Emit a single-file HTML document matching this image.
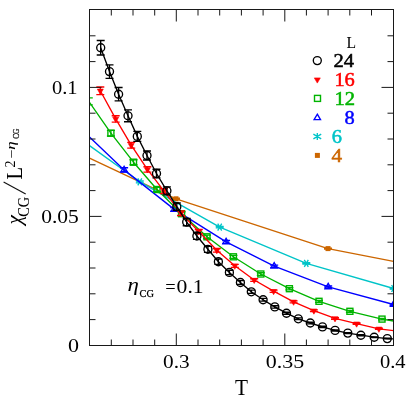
<!DOCTYPE html>
<html><head><meta charset="utf-8"><title>chart</title>
<style>html,body{margin:0;padding:0;background:#fff}svg{display:block;will-change:transform}text{font-family:"Liberation Serif",serif}</style>
</head><body>
<svg width="415" height="415" viewBox="0 0 415 415">
<rect width="415" height="415" fill="#fff"/>
<clipPath id="c"><rect x="89.5" y="9.5" width="304.0" height="336.0"/></clipPath>
<g clip-path="url(#c)">
<polyline points="89.5,158.2 176.0,198.8 328.0,248.6 393.5,261.3" fill="none" stroke="#cc6600" stroke-width="1.35" stroke-linejoin="round"/>
<path d="M176.0 198.2V199.4M172.0 198.2H180.0M172.0 199.4H180.0" stroke="#cc6600" stroke-width="1.35" fill="none"/>
<rect x="173.5" y="196.3" width="5" height="5" fill="#cc6600"/>
<path d="M328.0 248.1V249.1M324.0 248.1H332.0M324.0 249.1H332.0" stroke="#cc6600" stroke-width="1.35" fill="none"/>
<rect x="325.5" y="246.1" width="5" height="5" fill="#cc6600"/>
<polyline points="89.5,145.6 139.8,181.8 219.7,227.1 306.3,263.4 393.6,288.5" fill="none" stroke="#00c4c8" stroke-width="1.35" stroke-linejoin="round"/>
<path d="M139.8 180.8V182.8M135.8 180.8H143.8M135.8 182.8H143.8" stroke="#00c4c8" stroke-width="1.35" fill="none"/>
<path d="M136.2 181.8H143.4M137.8 178.3L141.8 185.3M137.8 185.3L141.8 178.3" fill="none" stroke="#00c4c8" stroke-width="1.35"/>
<path d="M219.7 226.3V227.9M215.7 226.3H223.7M215.7 227.9H223.7" stroke="#00c4c8" stroke-width="1.35" fill="none"/>
<path d="M216.1 227.1H223.3M217.7 223.6L221.7 230.6M217.7 230.6L221.7 223.6" fill="none" stroke="#00c4c8" stroke-width="1.35"/>
<path d="M306.3 262.7V264.1M302.3 262.7H310.3M302.3 264.1H310.3" stroke="#00c4c8" stroke-width="1.35" fill="none"/>
<path d="M302.7 263.4H309.9M304.3 259.9L308.3 266.9M304.3 266.9L308.3 259.9" fill="none" stroke="#00c4c8" stroke-width="1.35"/>
<path d="M393.6 287.9V289.1M389.6 287.9H397.6M389.6 289.1H397.6" stroke="#00c4c8" stroke-width="1.35" fill="none"/>
<path d="M390.0 288.5H397.2M391.6 285.0L395.6 292.0M391.6 292.0L395.6 285.0" fill="none" stroke="#00c4c8" stroke-width="1.35"/>
<polyline points="89.5,136.9 124.1,169.9 174.3,209.4 226.1,241.9 274.2,266.2 328.2,286.9 393.6,304.5" fill="none" stroke="#0000ff" stroke-width="1.35" stroke-linejoin="round"/>
<path d="M124.1 167.7V172.1M120.1 167.7H128.1M120.1 172.1H128.1" stroke="#0000ff" stroke-width="1.35" fill="none"/>
<path d="M124.1 166.3L127.3 171.7L120.9 171.7Z" fill="none" stroke="#0000ff" stroke-width="1.35" stroke-linejoin="miter"/>
<path d="M174.3 207.6V211.2M170.3 207.6H178.3M170.3 211.2H178.3" stroke="#0000ff" stroke-width="1.35" fill="none"/>
<path d="M174.3 205.8L177.5 211.2L171.1 211.2Z" fill="none" stroke="#0000ff" stroke-width="1.35" stroke-linejoin="miter"/>
<path d="M226.1 240.5V243.3M222.1 240.5H230.1M222.1 243.3H230.1" stroke="#0000ff" stroke-width="1.35" fill="none"/>
<path d="M226.1 238.3L229.3 243.7L222.9 243.7Z" fill="none" stroke="#0000ff" stroke-width="1.35" stroke-linejoin="miter"/>
<path d="M274.2 265.1V267.3M270.2 265.1H278.2M270.2 267.3H278.2" stroke="#0000ff" stroke-width="1.35" fill="none"/>
<path d="M274.2 262.6L277.4 268.0L271.0 268.0Z" fill="none" stroke="#0000ff" stroke-width="1.35" stroke-linejoin="miter"/>
<path d="M328.2 286.0V287.8M324.2 286.0H332.2M324.2 287.8H332.2" stroke="#0000ff" stroke-width="1.35" fill="none"/>
<path d="M328.2 283.3L331.4 288.7L325.0 288.7Z" fill="none" stroke="#0000ff" stroke-width="1.35" stroke-linejoin="miter"/>
<path d="M393.6 303.7V305.3M389.6 303.7H397.6M389.6 305.3H397.6" stroke="#0000ff" stroke-width="1.35" fill="none"/>
<path d="M393.6 300.9L396.8 306.3L390.4 306.3Z" fill="none" stroke="#0000ff" stroke-width="1.35" stroke-linejoin="miter"/>
<polyline points="88.8,101.3 110.9,133.2 133.5,162.2 157.0,189.5 181.6,213.7 207.0,236.8 233.4,256.8 260.8,274.0 289.4,288.7 319.0,301.3 349.9,311.3 382.0,319.1 393.5,321.0" fill="none" stroke="#00b400" stroke-width="1.35" stroke-linejoin="round"/>
<path d="M88.8 97.8V104.8M84.8 97.8H92.8M84.8 104.8H92.8" stroke="#00b400" stroke-width="1.35" fill="none"/>
<path d="M110.9 130.4V136.0M106.9 130.4H114.9M106.9 136.0H114.9" stroke="#00b400" stroke-width="1.35" fill="none"/>
<rect x="107.9" y="130.2" width="6" height="6" fill="none" stroke="#00b400" stroke-width="1.4000000000000001"/>
<path d="M133.5 159.7V164.7M129.5 159.7H137.5M129.5 164.7H137.5" stroke="#00b400" stroke-width="1.35" fill="none"/>
<rect x="130.5" y="159.2" width="6" height="6" fill="none" stroke="#00b400" stroke-width="1.4000000000000001"/>
<path d="M157.0 187.3V191.7M153.0 187.3H161.0M153.0 191.7H161.0" stroke="#00b400" stroke-width="1.35" fill="none"/>
<rect x="154.0" y="186.5" width="6" height="6" fill="none" stroke="#00b400" stroke-width="1.4000000000000001"/>
<path d="M181.6 211.7V215.7M177.6 211.7H185.6M177.6 215.7H185.6" stroke="#00b400" stroke-width="1.35" fill="none"/>
<rect x="178.6" y="210.7" width="6" height="6" fill="none" stroke="#00b400" stroke-width="1.4000000000000001"/>
<path d="M207.0 235.1V238.5M203.0 235.1H211.0M203.0 238.5H211.0" stroke="#00b400" stroke-width="1.35" fill="none"/>
<rect x="204.0" y="233.8" width="6" height="6" fill="none" stroke="#00b400" stroke-width="1.4000000000000001"/>
<path d="M233.4 255.3V258.3M229.4 255.3H237.4M229.4 258.3H237.4" stroke="#00b400" stroke-width="1.35" fill="none"/>
<rect x="230.4" y="253.8" width="6" height="6" fill="none" stroke="#00b400" stroke-width="1.4000000000000001"/>
<path d="M260.8 272.7V275.3M256.8 272.7H264.8M256.8 275.3H264.8" stroke="#00b400" stroke-width="1.35" fill="none"/>
<rect x="257.8" y="271.0" width="6" height="6" fill="none" stroke="#00b400" stroke-width="1.4000000000000001"/>
<path d="M289.4 287.6V289.8M285.4 287.6H293.4M285.4 289.8H293.4" stroke="#00b400" stroke-width="1.35" fill="none"/>
<rect x="286.4" y="285.7" width="6" height="6" fill="none" stroke="#00b400" stroke-width="1.4000000000000001"/>
<path d="M319.0 300.3V302.3M315.0 300.3H323.0M315.0 302.3H323.0" stroke="#00b400" stroke-width="1.35" fill="none"/>
<rect x="316.0" y="298.3" width="6" height="6" fill="none" stroke="#00b400" stroke-width="1.4000000000000001"/>
<path d="M349.9 310.4V312.2M345.9 310.4H353.9M345.9 312.2H353.9" stroke="#00b400" stroke-width="1.35" fill="none"/>
<rect x="346.9" y="308.3" width="6" height="6" fill="none" stroke="#00b400" stroke-width="1.4000000000000001"/>
<path d="M382.0 318.3V319.9M378.0 318.3H386.0M378.0 319.9H386.0" stroke="#00b400" stroke-width="1.35" fill="none"/>
<rect x="379.0" y="316.1" width="6" height="6" fill="none" stroke="#00b400" stroke-width="1.4000000000000001"/>
<polyline points="100.3,90.8 115.7,118.9 131.2,145.2 147.4,169.4 164.0,191.1 181.0,213.2 198.8,231.5 216.8,250.3 234.8,265.8 254.2,280.0 273.6,291.2 293.6,301.8 313.9,310.7 335.0,318.4 356.6,323.7 378.9,328.8 393.5,330.6" fill="none" stroke="#ff0000" stroke-width="1.35" stroke-linejoin="round"/>
<path d="M100.3 87.0V94.6M96.3 87.0H104.3M96.3 94.6H104.3" stroke="#ff0000" stroke-width="1.35" fill="none"/>
<path d="M97.3 89.1L103.3 89.1L100.3 94.3Z" fill="#ff0000" stroke="#ff0000" stroke-width="0.6"/>
<path d="M115.7 115.7V122.1M111.7 115.7H119.7M111.7 122.1H119.7" stroke="#ff0000" stroke-width="1.35" fill="none"/>
<path d="M112.7 117.2L118.7 117.2L115.7 122.4Z" fill="#ff0000" stroke="#ff0000" stroke-width="0.6"/>
<path d="M131.2 142.3V148.1M127.2 142.3H135.2M127.2 148.1H135.2" stroke="#ff0000" stroke-width="1.35" fill="none"/>
<path d="M128.2 143.5L134.2 143.5L131.2 148.7Z" fill="#ff0000" stroke="#ff0000" stroke-width="0.6"/>
<path d="M147.4 166.7V172.1M143.4 166.7H151.4M143.4 172.1H151.4" stroke="#ff0000" stroke-width="1.35" fill="none"/>
<path d="M144.4 167.7L150.4 167.7L147.4 172.9Z" fill="#ff0000" stroke="#ff0000" stroke-width="0.6"/>
<path d="M164.0 188.6V193.6M160.0 188.6H168.0M160.0 193.6H168.0" stroke="#ff0000" stroke-width="1.35" fill="none"/>
<path d="M161.0 189.4L167.0 189.4L164.0 194.6Z" fill="#ff0000" stroke="#ff0000" stroke-width="0.6"/>
<path d="M181.0 210.9V215.5M177.0 210.9H185.0M177.0 215.5H185.0" stroke="#ff0000" stroke-width="1.35" fill="none"/>
<path d="M178.0 211.5L184.0 211.5L181.0 216.7Z" fill="#ff0000" stroke="#ff0000" stroke-width="0.6"/>
<path d="M198.8 229.5V233.5M194.8 229.5H202.8M194.8 233.5H202.8" stroke="#ff0000" stroke-width="1.35" fill="none"/>
<path d="M195.8 229.8L201.8 229.8L198.8 235.0Z" fill="#ff0000" stroke="#ff0000" stroke-width="0.6"/>
<path d="M216.8 248.5V252.1M212.8 248.5H220.8M212.8 252.1H220.8" stroke="#ff0000" stroke-width="1.35" fill="none"/>
<path d="M213.8 248.6L219.8 248.6L216.8 253.8Z" fill="#ff0000" stroke="#ff0000" stroke-width="0.6"/>
<path d="M234.8 264.3V267.3M230.8 264.3H238.8M230.8 267.3H238.8" stroke="#ff0000" stroke-width="1.35" fill="none"/>
<path d="M231.8 264.1L237.8 264.1L234.8 269.3Z" fill="#ff0000" stroke="#ff0000" stroke-width="0.6"/>
<path d="M254.2 278.7V281.3M250.2 278.7H258.2M250.2 281.3H258.2" stroke="#ff0000" stroke-width="1.35" fill="none"/>
<path d="M251.2 278.3L257.2 278.3L254.2 283.5Z" fill="#ff0000" stroke="#ff0000" stroke-width="0.6"/>
<path d="M273.6 290.1V292.3M269.6 290.1H277.6M269.6 292.3H277.6" stroke="#ff0000" stroke-width="1.35" fill="none"/>
<path d="M270.6 289.5L276.6 289.5L273.6 294.7Z" fill="#ff0000" stroke="#ff0000" stroke-width="0.6"/>
<path d="M293.6 300.8V302.8M289.6 300.8H297.6M289.6 302.8H297.6" stroke="#ff0000" stroke-width="1.35" fill="none"/>
<path d="M290.6 300.1L296.6 300.1L293.6 305.3Z" fill="#ff0000" stroke="#ff0000" stroke-width="0.6"/>
<path d="M313.9 309.8V311.6M309.9 309.8H317.9M309.9 311.6H317.9" stroke="#ff0000" stroke-width="1.35" fill="none"/>
<path d="M310.9 309.0L316.9 309.0L313.9 314.2Z" fill="#ff0000" stroke="#ff0000" stroke-width="0.6"/>
<path d="M335.0 317.6V319.2M331.0 317.6H339.0M331.0 319.2H339.0" stroke="#ff0000" stroke-width="1.35" fill="none"/>
<path d="M332.0 316.7L338.0 316.7L335.0 321.9Z" fill="#ff0000" stroke="#ff0000" stroke-width="0.6"/>
<path d="M356.6 323.0V324.4M352.6 323.0H360.6M352.6 324.4H360.6" stroke="#ff0000" stroke-width="1.35" fill="none"/>
<path d="M353.6 322.0L359.6 322.0L356.6 327.2Z" fill="#ff0000" stroke="#ff0000" stroke-width="0.6"/>
<path d="M378.9 328.2V329.4M374.9 328.2H382.9M374.9 329.4H382.9" stroke="#ff0000" stroke-width="1.35" fill="none"/>
<path d="M375.9 327.1L381.9 327.1L378.9 332.3Z" fill="#ff0000" stroke="#ff0000" stroke-width="0.6"/>
<polyline points="100.7,47.7 109.5,71.6 118.6,94.2 128.0,115.8 137.3,136.4 147.0,155.5 156.5,173.5 166.9,190.8 176.8,206.7 186.7,222.1 196.9,236.0 207.9,249.3 218.4,261.7 229.4,272.4 240.4,282.5 251.3,291.8 263.1,299.7 274.8,306.9 286.5,313.2 298.3,318.8 310.3,323.0 322.5,326.9 335.1,330.4 347.8,333.1 360.9,335.2 374.2,337.2 387.3,338.6 393.5,338.9" fill="none" stroke="#000" stroke-width="1.35" stroke-linejoin="round"/>
<path d="M100.7 40.5V55.0M96.7 40.5H104.7M96.7 55.0H104.7" stroke="#000" stroke-width="1.35" fill="none"/>
<circle cx="100.7" cy="47.7" r="4" fill="none" stroke="#000" stroke-width="1.35"/>
<path d="M109.5 64.8V78.4M105.5 64.8H113.5M105.5 78.4H113.5" stroke="#000" stroke-width="1.35" fill="none"/>
<circle cx="109.5" cy="71.6" r="4" fill="none" stroke="#000" stroke-width="1.35"/>
<path d="M118.6 87.5V100.9M114.6 87.5H122.6M114.6 100.9H122.6" stroke="#000" stroke-width="1.35" fill="none"/>
<circle cx="118.6" cy="94.2" r="4" fill="none" stroke="#000" stroke-width="1.35"/>
<path d="M128.0 109.9V121.7M124.0 109.9H132.0M124.0 121.7H132.0" stroke="#000" stroke-width="1.35" fill="none"/>
<circle cx="128.0" cy="115.8" r="4" fill="none" stroke="#000" stroke-width="1.35"/>
<path d="M137.3 131.4V141.4M133.3 131.4H141.3M133.3 141.4H141.3" stroke="#000" stroke-width="1.35" fill="none"/>
<circle cx="137.3" cy="136.4" r="4" fill="none" stroke="#000" stroke-width="1.35"/>
<path d="M147.0 151.0V160.0M143.0 151.0H151.0M143.0 160.0H151.0" stroke="#000" stroke-width="1.35" fill="none"/>
<circle cx="147.0" cy="155.5" r="4" fill="none" stroke="#000" stroke-width="1.35"/>
<path d="M156.5 169.2V177.8M152.5 169.2H160.5M152.5 177.8H160.5" stroke="#000" stroke-width="1.35" fill="none"/>
<circle cx="156.5" cy="173.5" r="4" fill="none" stroke="#000" stroke-width="1.35"/>
<path d="M166.9 186.8V194.8M162.9 186.8H170.9M162.9 194.8H170.9" stroke="#000" stroke-width="1.35" fill="none"/>
<circle cx="166.9" cy="190.8" r="4" fill="none" stroke="#000" stroke-width="1.35"/>
<path d="M176.8 203.0V210.4M172.8 203.0H180.8M172.8 210.4H180.8" stroke="#000" stroke-width="1.35" fill="none"/>
<circle cx="176.8" cy="206.7" r="4" fill="none" stroke="#000" stroke-width="1.35"/>
<path d="M186.7 218.5V225.7M182.7 218.5H190.7M182.7 225.7H190.7" stroke="#000" stroke-width="1.35" fill="none"/>
<circle cx="186.7" cy="222.1" r="4" fill="none" stroke="#000" stroke-width="1.35"/>
<path d="M196.9 232.7V239.3M192.9 232.7H200.9M192.9 239.3H200.9" stroke="#000" stroke-width="1.35" fill="none"/>
<circle cx="196.9" cy="236.0" r="4" fill="none" stroke="#000" stroke-width="1.35"/>
<path d="M207.9 246.3V252.3M203.9 246.3H211.9M203.9 252.3H211.9" stroke="#000" stroke-width="1.35" fill="none"/>
<circle cx="207.9" cy="249.3" r="4" fill="none" stroke="#000" stroke-width="1.35"/>
<path d="M218.4 259.1V264.3M214.4 259.1H222.4M214.4 264.3H222.4" stroke="#000" stroke-width="1.35" fill="none"/>
<circle cx="218.4" cy="261.7" r="4" fill="none" stroke="#000" stroke-width="1.35"/>
<path d="M229.4 270.2V274.6M225.4 270.2H233.4M225.4 274.6H233.4" stroke="#000" stroke-width="1.35" fill="none"/>
<circle cx="229.4" cy="272.4" r="4" fill="none" stroke="#000" stroke-width="1.35"/>
<path d="M240.4 280.6V284.4M236.4 280.6H244.4M236.4 284.4H244.4" stroke="#000" stroke-width="1.35" fill="none"/>
<circle cx="240.4" cy="282.5" r="4" fill="none" stroke="#000" stroke-width="1.35"/>
<path d="M251.3 290.1V293.4M247.3 290.1H255.3M247.3 293.4H255.3" stroke="#000" stroke-width="1.35" fill="none"/>
<circle cx="251.3" cy="291.8" r="4" fill="none" stroke="#000" stroke-width="1.35"/>
<path d="M263.1 298.3V301.1M259.1 298.3H267.1M259.1 301.1H267.1" stroke="#000" stroke-width="1.35" fill="none"/>
<circle cx="263.1" cy="299.7" r="4" fill="none" stroke="#000" stroke-width="1.35"/>
<path d="M274.8 305.7V308.1M270.8 305.7H278.8M270.8 308.1H278.8" stroke="#000" stroke-width="1.35" fill="none"/>
<circle cx="274.8" cy="306.9" r="4" fill="none" stroke="#000" stroke-width="1.35"/>
<path d="M286.5 312.2V314.2M282.5 312.2H290.5M282.5 314.2H290.5" stroke="#000" stroke-width="1.35" fill="none"/>
<circle cx="286.5" cy="313.2" r="4" fill="none" stroke="#000" stroke-width="1.35"/>
<path d="M298.3 317.9V319.6M294.3 317.9H302.3M294.3 319.6H302.3" stroke="#000" stroke-width="1.35" fill="none"/>
<circle cx="298.3" cy="318.8" r="4" fill="none" stroke="#000" stroke-width="1.35"/>
<path d="M310.3 322.2V323.8M306.3 322.2H314.3M306.3 323.8H314.3" stroke="#000" stroke-width="1.35" fill="none"/>
<circle cx="310.3" cy="323.0" r="4" fill="none" stroke="#000" stroke-width="1.35"/>
<path d="M322.5 326.2V327.6M318.5 326.2H326.5M318.5 327.6H326.5" stroke="#000" stroke-width="1.35" fill="none"/>
<circle cx="322.5" cy="326.9" r="4" fill="none" stroke="#000" stroke-width="1.35"/>
<path d="M335.1 329.8V331.0M331.1 329.8H339.1M331.1 331.0H339.1" stroke="#000" stroke-width="1.35" fill="none"/>
<circle cx="335.1" cy="330.4" r="4" fill="none" stroke="#000" stroke-width="1.35"/>
<path d="M347.8 332.6V333.6M343.8 332.6H351.8M343.8 333.6H351.8" stroke="#000" stroke-width="1.35" fill="none"/>
<circle cx="347.8" cy="333.1" r="4" fill="none" stroke="#000" stroke-width="1.35"/>
<path d="M360.9 334.7V335.7M356.9 334.7H364.9M356.9 335.7H364.9" stroke="#000" stroke-width="1.35" fill="none"/>
<circle cx="360.9" cy="335.2" r="4" fill="none" stroke="#000" stroke-width="1.35"/>
<path d="M374.2 336.8V337.6M370.2 336.8H378.2M370.2 337.6H378.2" stroke="#000" stroke-width="1.35" fill="none"/>
<circle cx="374.2" cy="337.2" r="4" fill="none" stroke="#000" stroke-width="1.35"/>
<path d="M387.3 338.2V338.9M383.3 338.2H391.3M383.3 338.9H391.3" stroke="#000" stroke-width="1.35" fill="none"/>
<circle cx="387.3" cy="338.6" r="4" fill="none" stroke="#000" stroke-width="1.35"/>
</g>
<rect x="89.5" y="9.5" width="304.0" height="336.0" fill="none" stroke="#181818" stroke-width="1"/>
<path d="M111.3 345.5v-6.0M111.3 9.5v6.0M133.0 345.5v-6.0M133.0 9.5v6.0M154.7 345.5v-6.0M154.7 9.5v6.0M176.3 345.5v-12.0M176.3 9.5v12.0M198.0 345.5v-6.0M198.0 9.5v6.0M219.7 345.5v-6.0M219.7 9.5v6.0M241.4 345.5v-6.0M241.4 9.5v6.0M263.1 345.5v-6.0M263.1 9.5v6.0M284.8 345.5v-12.0M284.8 9.5v12.0M306.4 345.5v-6.0M306.4 9.5v6.0M328.1 345.5v-6.0M328.1 9.5v6.0M349.8 345.5v-6.0M349.8 9.5v6.0M371.5 345.5v-6.0M371.5 9.5v6.0M89.5 319.6h6.0M393.5 319.6h-6.0M89.5 293.8h6.0M393.5 293.8h-6.0M89.5 268.0h6.0M393.5 268.0h-6.0M89.5 242.2h6.0M393.5 242.2h-6.0M89.5 216.4h12.0M393.5 216.4h-12.0M89.5 190.6h6.0M393.5 190.6h-6.0M89.5 164.8h6.0M393.5 164.8h-6.0M89.5 139.0h6.0M393.5 139.0h-6.0M89.5 113.2h6.0M393.5 113.2h-6.0M89.5 87.4h12.0M393.5 87.4h-12.0M89.5 61.6h6.0M393.5 61.6h-6.0M89.5 35.8h6.0M393.5 35.8h-6.0" stroke="#181818" stroke-width="1" fill="none"/>
<g font-family="Liberation Serif, serif" opacity="0.999">
<text x="52.0" y="94.0" font-size="18.6" text-anchor="start" fill="#000" textLength="25.6" lengthAdjust="spacingAndGlyphs">0.1</text>
<text x="41.2" y="222.6" font-size="18.6" text-anchor="start" fill="#000" textLength="37.6" lengthAdjust="spacingAndGlyphs">0.05</text>
<text x="68.0" y="352.0" font-size="18.6" text-anchor="start" fill="#000" textLength="11" lengthAdjust="spacingAndGlyphs">0</text>
<text x="163.0" y="368.0" font-size="18.6" text-anchor="start" fill="#000" textLength="26.6" lengthAdjust="spacingAndGlyphs">0.3</text>
<text x="265.8" y="367.8" font-size="18.6" text-anchor="start" fill="#000" textLength="38.4" lengthAdjust="spacingAndGlyphs">0.35</text>
<text x="380.0" y="367.7" font-size="18.6" text-anchor="start" fill="#000" textLength="25.6" lengthAdjust="spacingAndGlyphs">0.4</text>
<text x="235.0" y="395.0" font-size="24" text-anchor="start" fill="#000" textLength="13" lengthAdjust="spacingAndGlyphs">T</text>
<text x="127.4" y="291.3" font-size="19.5" text-anchor="start" fill="#000" font-style="italic" textLength="11.4" lengthAdjust="spacingAndGlyphs">η</text>
<text x="139.6" y="297.0" font-size="11.2" text-anchor="start" fill="#000" textLength="14.4" lengthAdjust="spacingAndGlyphs" stroke="#000" stroke-width="0.25">CG</text>
<text x="165.2" y="292.6" font-size="19" text-anchor="start" fill="#000" textLength="10.4" lengthAdjust="spacingAndGlyphs">=</text>
<text x="176.6" y="292.8" font-size="18.6" text-anchor="start" fill="#000" textLength="27" lengthAdjust="spacingAndGlyphs">0.1</text>
<text x="346.4" y="47.6" font-size="17.6" text-anchor="start" fill="#000" textLength="9.6" lengthAdjust="spacingAndGlyphs">L</text>
<text x="333.4" y="67.0" font-size="18.6" text-anchor="start" fill="#000" textLength="20.6" lengthAdjust="spacingAndGlyphs" stroke="#000" stroke-width="0.5">24</text>
<text x="334.4" y="86.0" font-size="18.6" text-anchor="start" fill="#ff0000" textLength="20.4" lengthAdjust="spacingAndGlyphs" stroke="#ff0000" stroke-width="0.5">16</text>
<text x="334.4" y="104.8" font-size="18.6" text-anchor="start" fill="#00b400" textLength="20.6" lengthAdjust="spacingAndGlyphs" stroke="#00b400" stroke-width="0.5">12</text>
<text x="344.6" y="123.6" font-size="18.6" text-anchor="start" fill="#0000ff" textLength="10.2" lengthAdjust="spacingAndGlyphs" stroke="#0000ff" stroke-width="0.5">8</text>
<text x="331.8" y="142.6" font-size="18.6" text-anchor="start" fill="#00c4c8" textLength="10.2" lengthAdjust="spacingAndGlyphs" stroke="#00c4c8" stroke-width="0.5">6</text>
<text x="331.6" y="162.0" font-size="18.6" text-anchor="start" fill="#cc6600" textLength="10.6" lengthAdjust="spacingAndGlyphs" stroke="#cc6600" stroke-width="0.5">4</text>
</g>
<circle cx="317.3" cy="60.6" r="4" fill="none" stroke="#000" stroke-width="1.35"/>
<path d="M314.3 77.9L320.3 77.9L317.3 83.1Z" fill="#ff0000" stroke="#ff0000" stroke-width="0.6"/>
<rect x="314.5" y="95.4" width="6" height="6" fill="none" stroke="#00b400" stroke-width="1.4000000000000001"/>
<path d="M317.3 114.2L320.5 119.6L314.1 119.6Z" fill="none" stroke="#0000ff" stroke-width="1.35" stroke-linejoin="miter"/>
<path d="M317.3 133.1V139.9M313.4 134.1L321.2 138.9M313.4 138.9L321.2 134.1" fill="none" stroke="#00c4c8" stroke-width="1.35"/>
<rect x="314.9" y="152.9" width="5" height="5" fill="#cc6600"/>
<g opacity="0.999">
<g transform="translate(21.7,226) rotate(-90)" font-family="Liberation Serif, serif">
<text x="1.4" y="-1" font-size="20" font-style="italic" textLength="9.4" lengthAdjust="spacingAndGlyphs">χ</text>
<text x="9.2" y="7" font-size="16" textLength="20" lengthAdjust="spacingAndGlyphs">CG</text>
<path d="M32 4L44 -18.1" stroke="#111" stroke-width="1.15" fill="none"/>
<text x="46.4" y="0" font-size="23.4" textLength="12.6" lengthAdjust="spacingAndGlyphs">L</text>
<text x="58.6" y="-7.2" font-size="14">2</text>
<text x="67.4" y="-5.8" font-size="14" textLength="9.2" lengthAdjust="spacingAndGlyphs">−</text>
<text x="76.3" y="-7.2" font-size="13" font-style="italic" textLength="8.4" lengthAdjust="spacingAndGlyphs">η</text>
<text x="87.2" y="-2.6" font-size="8.2" textLength="10.2" lengthAdjust="spacingAndGlyphs" stroke="#000" stroke-width="0.25">CG</text>
</g>
</g>
</svg>
</body></html>
